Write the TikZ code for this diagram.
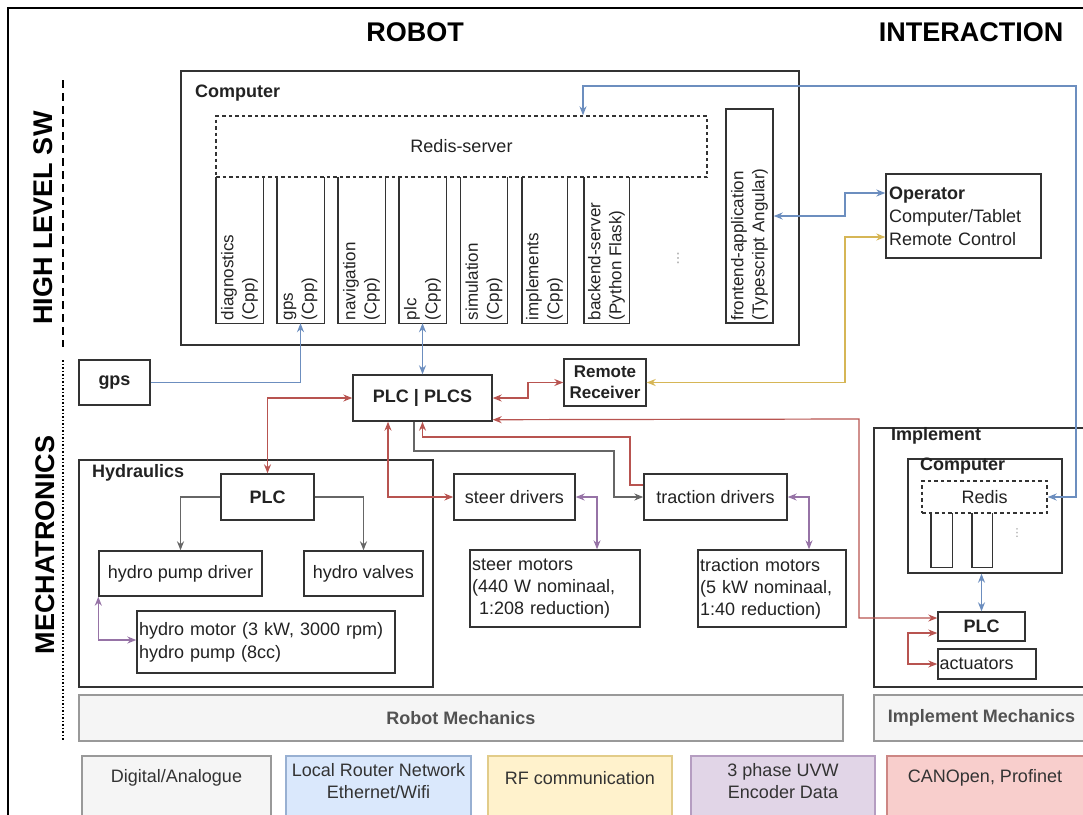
\documentclass[tikz,border=0pt]{standalone}
\usepackage{fontspec}
\setmainfont{Liberation Sans}
\newfontfamily\dejavu{DejaVu Sans}
\usetikzlibrary{arrows.meta}
\definecolor{cblue}{HTML}{6C8EBF}
\definecolor{cbluef}{HTML}{DAE8FC}
\definecolor{cyel}{HTML}{D6B656}
\definecolor{cyelf}{HTML}{FFF2CC}
\definecolor{cpur}{HTML}{9673A6}
\definecolor{cpurf}{HTML}{E1D5E7}
\definecolor{cred}{HTML}{B85450}
\definecolor{credf}{HTML}{F8CECC}
\definecolor{cgry}{HTML}{666666}
\definecolor{cgryf}{HTML}{F5F5F5}
\definecolor{cgryb}{HTML}{999999}
\definecolor{cline}{HTML}{333333}
\definecolor{ctext}{HTML}{222222}
\tikzset{
  box/.style={draw=cline, line width=1.4pt, fill=white, inner sep=0pt, text=ctext,
    font=\fontsize{18}{22}\selectfont},
  dbox/.style={box, fill=none, dash pattern=on 3.5pt off 3pt},
  lbox/.style={box, align=left, inner xsep=3pt},
  colnode/.style={inner sep=0pt, minimum width=47pt, minimum height=146pt},
  coltext/.style={rotate=90, anchor=west, align=left, inner sep=3pt, text=ctext,
    font=\fontsize{17}{21}\selectfont},
  bfnt/.style={font=\fontsize{18}{22}\selectfont\bfseries, text=ctext},
  title/.style={font=\fontsize{27}{30}\selectfont\bfseries, text=black},
  conn/.style={line width=1.2pt},
  bl/.style={conn, draw=cblue},
  ye/.style={conn, draw=cyel},
  pu/.style={conn, draw=cpur},
  rd/.style={conn, draw=cred},
  gy/.style={conn, draw=cgry},
  mech/.style={box, draw=cgryb, fill=cgryf, text=cgry!80!black,
    font=\fontsize{18}{22}\selectfont\bfseries},
  legend/.style={box, minimum height=80pt},
  legtext/.style={align=center, text=cline, font=\fontsize{18}{22}\selectfont},
  dotsnode/.style={text=cgryb, inner sep=0pt},
}
\begin{document}
\begin{tikzpicture}[x=1pt, y=-1pt, >={Stealth[length=9pt,width=7pt]}]
\useasboundingbox (0,0) rectangle (1083,814);
\begin{scope}
\clip (0,0) rectangle (1083,814);
% frame
\draw[line width=2pt] (8,830) -- (8,8) -- (1090,8);
% titles
\node[title] (trobot) at (415,32) {ROBOT};
\node[title] (tinter) at (971,32) {INTERACTION};
\node[title, rotate=90] (thl) at (43,218) {HIGH LEVEL SW};
\node[title, rotate=90] (tmech) at (45,545) {MECHATRONICS};
\draw[line width=2.5pt, dash pattern=on 8pt off 5pt] (63,80) -- (63,347);
\draw[line width=2pt, dash pattern=on 1.5pt off 2pt] (63,360) -- (63,740);

% computer
\node[box, minimum width=618pt, minimum height=274pt] (comp) at (490,208) {};
\node[bfnt, anchor=west, inner sep=0pt] (lcomp) at (195,93) {Computer};
\node[dbox, minimum width=491pt, minimum height=61pt] (redis) at (461.5,146.5) {Redis-server};
% columns
\node[colnode] (cdiag) at (239.5,250) {};
\node[colnode] (cgps)  at (300.5,250) {};
\node[colnode] (cnav)  at (361.5,250) {};
\node[colnode] (cplc)  at (422.5,250) {};
\node[colnode] (csim)  at (484,250) {};
\node[colnode, minimum width=45pt] (cimp)  at (544.5,250) {};
\node[colnode, minimum width=45pt] (cback) at (606.5,250) {};
\foreach \c in {cdiag,cgps,cnav,cplc,csim,cimp,cback}{
  \draw[draw=cline, line width=1.4pt] (\c.north west) -- (\c.south west) -- (\c.south east) -- (\c.north east);
}
\node[coltext] (tdiag) at (cdiag.south) {diagnostics\\(Cpp)};
\node[coltext] (tgps)  at (cgps.south) {gps\\(Cpp)};
\node[coltext] (tnav)  at (cnav.south) {navigation\\(Cpp)};
\node[coltext] (tplc)  at (cplc.south) {plc\\(Cpp)};
\node[coltext] (tsim)  at (csim.south) {simulation\\(Cpp)};
\node[coltext] (timp)  at (cimp.south) {implements\\(Cpp)};
\node[coltext] (tback) at (cback.south) {backend-server\\(Python Flask)};
\node[dotsnode, font=\dejavu\fontsize{13}{13}\selectfont] (cdots) at (678,258) {⋮};
\node[box, minimum width=47pt, minimum height=214pt] (front) at (749.5,216) {};
\node[coltext] (tfront) at (front.south) {frontend-application\\(Typescript Angular)};

% operator
\node[lbox, minimum width=155pt, minimum height=84pt, text width=149pt,
  font=\fontsize{18}{23}\selectfont] (oper) at (963.5,216)
  {\textbf{Operator}\\Computer/Tablet\\Remote Control};

% mid row
\node[box, minimum width=71pt, minimum height=45pt, font=\fontsize{18}{22}\selectfont\bfseries] (gps) at (114.5,382.5) {gps};
\node[box, minimum width=139pt, minimum height=46pt, font=\fontsize{18}{22}\selectfont\bfseries] (plcs) at (422.5,398) {PLC | PLCS};
\node[box, minimum width=82pt, minimum height=47pt, align=center, font=\fontsize{17}{21}\selectfont\bfseries] (rr) at (605,382.5) {Remote\\Receiver};

% hydraulics
\node[box, minimum width=354pt, minimum height=227pt] (hyd) at (256,573.5) {};
\node[bfnt, anchor=west, inner sep=0pt] (lhyd) at (92,473) {Hydraulics};
\node[box, minimum width=93pt, minimum height=46pt, font=\fontsize{18}{22}\selectfont\bfseries] (hplc) at (267.5,497) {PLC};
\node[box, minimum width=163pt, minimum height=45pt] (pump) at (180.5,573.5) {hydro pump driver};
\node[box, minimum width=119pt, minimum height=45pt] (valves) at (363.5,573.5) {hydro valves};
\node[lbox, minimum width=258pt, minimum height=62pt, text width=254pt, inner xsep=2pt,
  font=\fontsize{18}{23}\selectfont] (hmot) at (266,642) {hydro motor (3 kW, 3000 rpm)\\hydro pump (8cc)};

% drivers and motors
\node[box, minimum width=121pt, minimum height=46pt] (steer) at (514.5,497) {steer drivers};
\node[box, minimum width=143pt, minimum height=46pt] (trac) at (715.5,497) {traction drivers};
\node[lbox, minimum width=170pt, minimum height=77pt, text width=166pt, inner xsep=2pt,
  font=\fontsize{18}{22}\selectfont] (smot) at (555,588.5) {steer motors\\(440 W nominaal,\\\hspace*{7pt}1:208 reduction)};
\node[lbox, minimum width=148pt, minimum height=77pt, text width=144pt, inner xsep=2pt,
  font=\fontsize{18}{22}\selectfont] (tmot) at (772,588.5) {traction motors\\(5 kW nominaal,\\1:40 reduction)};

% implement
\node[box, minimum width=215pt, minimum height=259pt] (impl) at (981.5,557.5) {};
\node[bfnt, anchor=west, inner sep=0pt] (limpl) at (891,436) {Implement};
\node[box, minimum width=154pt, minimum height=114pt] (icomp) at (985,516) {};
\node[bfnt, anchor=west, inner sep=0pt] (licomp) at (920,466) {Computer};
\node[dbox, minimum width=125pt, minimum height=32pt] (iredis) at (984.5,497) {Redis};
\node[inner sep=0pt, minimum width=21pt, minimum height=54pt] (isc1) at (941.5,540) {};
\node[inner sep=0pt, minimum width=20pt, minimum height=54pt] (isc2) at (982,540) {};
\foreach \c in {isc1,isc2}{
  \draw[draw=cline, line width=1.4pt] (\c.north west) -- (\c.south west) -- (\c.south east) -- (\c.north east);
}
\node[dotsnode, font=\dejavu\fontsize{11}{11}\selectfont] (idots) at (1017,533) {⋮};
\node[box, minimum width=87pt, minimum height=29pt, font=\fontsize{18}{22}\selectfont\bfseries] (iplc) at (981.5,626.5) {PLC};
\node[lbox, minimum width=98pt, minimum height=30pt, text width=95pt, inner xsep=1.5pt] (iact) at (987,664) {actuators};

% mechanics
\node[mech, minimum width=764pt, minimum height=46pt] (rmech) at (461,718) {Robot Mechanics};
\node[mech, minimum width=215pt, minimum height=46pt] (imech) at (981.5,718) {Implement Mechanics};

% legend
\node[legend, draw=cgryb, fill=cgryf, minimum width=189pt] (lg1) at (176.5,796) {};
\node[legend, draw=cblue!70, fill=cbluef, minimum width=185pt] (lg2) at (378.5,796) {};
\node[legend, draw=cyel!70, fill=cyelf, minimum width=184pt] (lg3) at (580,796) {};
\node[legend, draw=cpur!70, fill=cpurf, minimum width=184pt] (lg4) at (783,796) {};
\node[legend, draw=cred!70, fill=credf, minimum width=200pt] (lg5) at (987,796) {};
\node[legtext] (lt1) at (176.5,778) {Digital/Analogue};
\node[legtext] (lt2) at (378.5,781) {Local Router Network\\Ethernet/Wifi};
\node[legtext] (lt3) at (580,778) {RF communication};
\node[legtext] (lt4) at (783,781) {3 phase UVW\\Encoder Data};
\node[legtext] (lt5) at (985,778) {CANOpen, Profinet};

% ---------- connectors ----------
% blue
\draw[bl, ->] (gps.east) -| (cgps.south);
\draw[bl, <->] (cplc.south) -- (plcs.north);
\draw[bl, <->] (front.east) -- (845,216) |- ([yshift=23pt]oper.west);
\draw[bl, <->] (iredis.east) -- (1076,497) |- (583,86) -- ([xshift=121.5pt]redis.north);
\draw[bl, <->] (iplc.north |- icomp.south) -- (iplc.north);
% yellow
\draw[ye, <->] (rr.east) -- (845,382.5) |- ([yshift=-21pt]oper.west);
% red
\draw[rd, <->] (plcs.west) -| (hplc.north);
\draw[rd, <->] (plcs.east) -- (528,398) |- (rr.west);
\draw[rd, <->] ([yshift=2pt]plcs.south east) -- (859,419) |- ([yshift=8.5pt]iplc.west);
\draw[rd, <->] ([yshift=-6.5pt]iplc.west) -- (908,633) |- (iact.west);
\draw[rd, <->] ([xshift=-34.5pt]plcs.south) |- (steer.west);
\draw[rd, <-] (plcs.south) -- (422.5,437) -| (630,485) -- ([yshift=12pt]trac.west);
% grey
\draw[gy, ->] ([xshift=-8.5pt]plcs.south) -- (414,451) -| (614,497) -- (trac.west);
\draw[gy, ->] (hplc.west) -| (pump.north);
\draw[gy, ->] (hplc.east) -| (valves.north);
% purple
\draw[pu, <->] (steer.east) -| ([xshift=42pt]smot.north);
\draw[pu, <->] (trac.east) -| ([xshift=37pt]tmot.north);
\draw[pu, <->] (pump.south west) |- ([yshift=2pt]hmot.west);
\end{scope}
\end{tikzpicture}
\end{document}
